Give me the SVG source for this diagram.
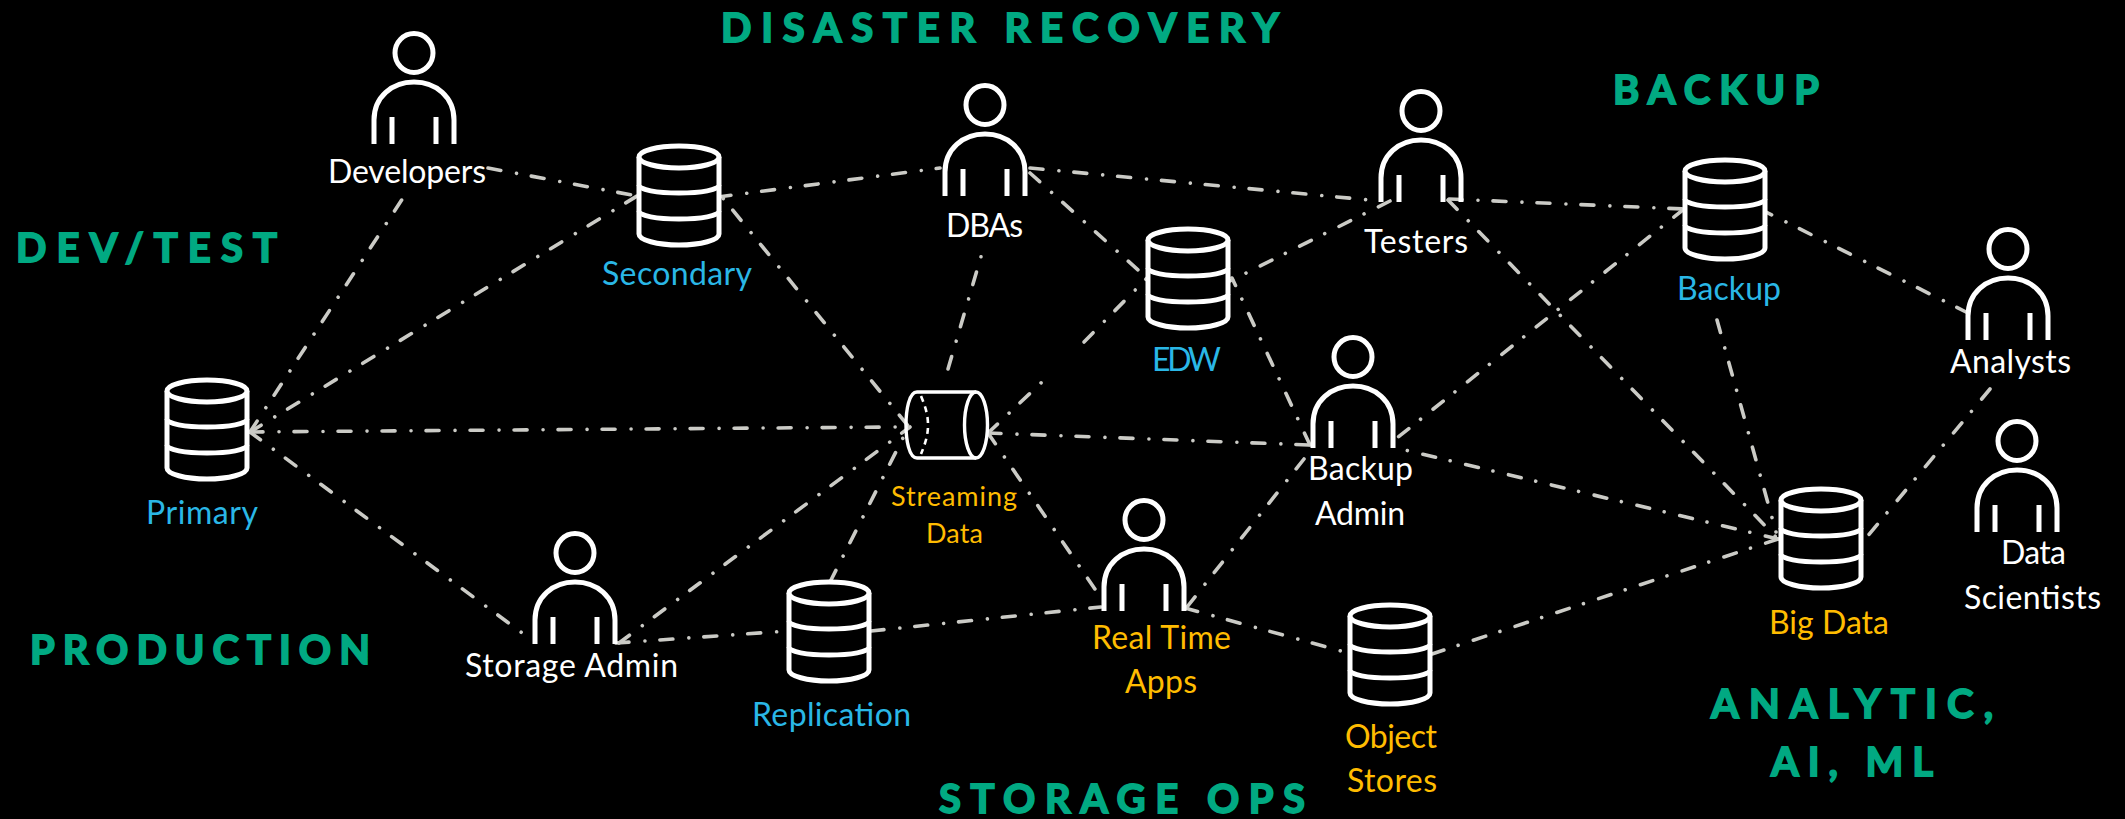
<svg xmlns="http://www.w3.org/2000/svg" width="2125" height="819" viewBox="0 0 2125 819">
<style>
text{font-family:"Lato","Open Sans","Liberation Sans",sans-serif;font-size:32px}
.w{fill:#fff}.b{fill:#2ab7e6}.y{fill:#ffbc00}
.s{font-size:27px}
.h{fill:#01a982;stroke:#01a982;stroke-width:1.8;font-weight:700;font-size:40px}
.c line{stroke:#cbcbc6;stroke-width:3.6;stroke-linecap:round;stroke-dasharray:13 16 .01 15;fill:none}
.ico{fill:none;stroke:#fff;stroke-width:5}
.cyl{fill:none;stroke:#fff;stroke-width:3.4}
.db{fill:#000;stroke:#fff;stroke-width:5;stroke-linejoin:round}
</style>
<defs>
<g id="person" class="ico"><ellipse cx="0" cy="-91" rx="19" ry="19.5"/><path d="M-40 0V-24C-40 -47 -22 -62 0 -62 22 -62 40 -47 40 -24V0M-22 -27V0M22 -27V0"/></g>
<g id="dbi" class="db"><path d="M-40 13V90C-40 96 -22 101 0 101 22 101 40 96 40 90V13"/><ellipse cx="0" cy="13" rx="40" ry="11"/><path d="M-40 41C-40 46 -22 49 0 49 22 49 40 46 40 41M-40 67C-40 72 -22 75 0 75 22 75 40 72 40 67" fill="none"/></g>
</defs>
<rect width="2125" height="819" fill="#000"/>
<g id="connectors" class="c">
<line x1="250" y1="432" x2="403" y2="198"/>
<line x1="250" y1="432" x2="637" y2="196"/>
<line x1="250" y1="432" x2="533" y2="641"/>
<line x1="250" y1="432" x2="898" y2="427"/>
<line x1="488" y1="168" x2="637" y2="196"/>
<line x1="619" y1="643" x2="910" y2="427"/>
<line x1="616" y1="643" x2="788" y2="631"/>
<line x1="830" y1="582" x2="907" y2="430"/>
<line x1="871" y1="631" x2="1101" y2="607"/>
<line x1="718" y1="197" x2="940" y2="168"/>
<line x1="705" y1="176" x2="909" y2="427"/>
<line x1="1030" y1="168" x2="1380" y2="201"/>
<line x1="1030" y1="173" x2="1147" y2="278"/>
<line x1="948" y1="369" x2="981.5" y2="255"/>
<line x1="1390" y1="201" x2="1230" y2="281"/>
<line x1="988" y1="433" x2="1043" y2="381"/>
<line x1="1084" y1="342" x2="1147" y2="278"/>
<line x1="988" y1="433" x2="1310" y2="445"/>
<line x1="988" y1="433" x2="1097" y2="592"/>
<line x1="1310" y1="445" x2="1232" y2="278"/>
<line x1="1187" y1="607" x2="1304" y2="459"/>
<line x1="1185" y1="608" x2="1341" y2="651"/>
<line x1="1449" y1="199" x2="1684" y2="209"/>
<line x1="1448" y1="200" x2="1778" y2="539"/>
<line x1="1684" y1="209" x2="1397" y2="438"/>
<line x1="1760" y1="209" x2="1966" y2="312"/>
<line x1="1717" y1="320" x2="1776" y2="532"/>
<line x1="1778" y1="539" x2="1405" y2="450"/>
<line x1="1778" y1="539" x2="1432" y2="654"/>
<line x1="1990" y1="389" x2="1866" y2="538"/>
</g>
<g id="primary"><use href="#dbi" x="207" y="378"/><text class="b" x="146" y="524" textLength="112">Primary</text></g>
<g id="secondary"><use href="#dbi" x="679" y="144"/><text class="b" x="602" y="285" textLength="150">Secondary</text></g>
<g id="edw"><use href="#dbi" x="1188" y="227"/><text class="b" x="1152" y="371" textLength="69">EDW</text></g>
<g id="backup"><use href="#dbi" x="1725" y="158"/><text class="b" x="1677" y="300" textLength="104">Backup</text></g>
<g id="bigdata"><use href="#dbi" x="1821" y="487"/><text class="y" x="1769" y="634" textLength="120">Big Data</text></g>
<g id="replication"><use href="#dbi" x="829" y="580"/><text class="b" x="752" y="726" textLength="159">Replication</text></g>
<g id="objectstores"><use href="#dbi" x="1390" y="603"/><text class="y" x="1345" y="748" textLength="92">Object</text><text class="y" x="1347" y="792" textLength="90">Stores</text></g>
<g id="streaming"><path class="cyl" d="M976 392H917C909 392 906 410 906 425S909 458 917 458H976"/><ellipse class="cyl" cx="976" cy="425" rx="11.5" ry="33"/><path class="cyl" style="stroke-width:2.6;stroke-dasharray:6 5" d="M921 396C926 408 928 416 928 425S926 442 921 454"/><text class="y s" x="891" y="506" textLength="126">Streaming</text><text class="y s" x="926" y="543" textLength="57">Data</text></g>
<g id="developers"><use href="#person" x="414" y="144"/><text class="w" x="328" y="183" textLength="158">Developers</text></g>
<g id="dbas"><use href="#person" x="985" y="196"/><text class="w" x="946" y="237" textLength="77">DBAs</text></g>
<g id="testers"><use href="#person" x="1421" y="202"/><text class="w" x="1364" y="253" textLength="104">Testers</text></g>
<g id="backupadmin"><use href="#person" x="1353" y="448"/><text class="w" x="1308" y="480" textLength="105">Backup</text><text class="w" x="1315" y="525" textLength="90">Admin</text></g>
<g id="realtime"><use href="#person" x="1144" y="611"/><text class="y" x="1092" y="649" textLength="139">Real Time</text><text class="y" x="1125" y="693" textLength="72">Apps</text></g>
<g id="storageadmin"><use href="#person" x="575" y="644"/><text class="w" x="465" y="677" textLength="213">Storage Admin</text></g>
<g id="analysts"><use href="#person" x="2008" y="340"/><text class="w" x="1950" y="373" textLength="121">Analysts</text></g>
<g id="datascientists"><use href="#person" x="2017" y="532"/><text class="w" x="2001" y="564" textLength="65">Data</text><text class="w" x="1964" y="609" textLength="137">Scientists</text></g>
<g id="headings">
<text class="h" x="721" y="42" textLength="558">DISASTER RECOVERY</text>
<text class="h" x="16" y="262" textLength="261">DEV/TEST</text>
<text class="h" x="1613" y="104" textLength="206">BACKUP</text>
<text class="h" x="30" y="664" textLength="340">PRODUCTION</text>
<text class="h" x="1711" y="718" textLength="282">ANALYTIC,</text>
<text class="h" x="1771" y="776" textLength="162">AI, ML</text>
<text class="h" x="939" y="813" textLength="366">STORAGE OPS</text>
</g>
</svg>
